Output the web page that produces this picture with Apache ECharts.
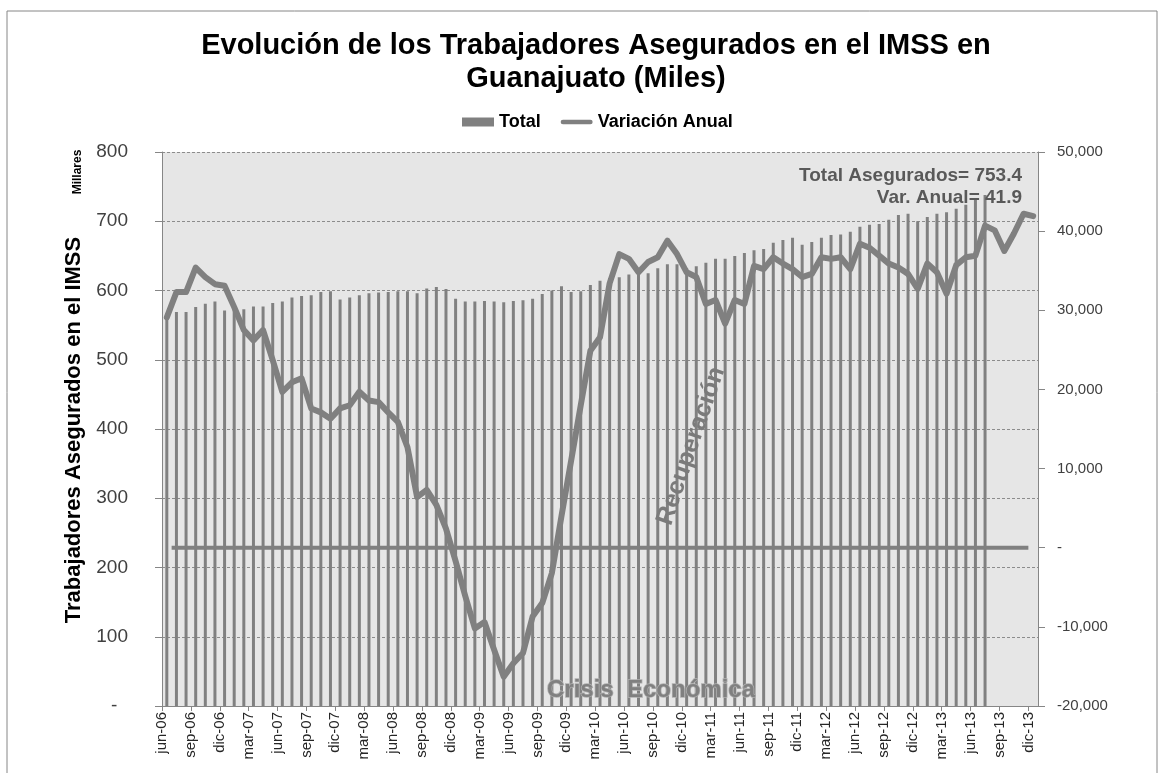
<!DOCTYPE html>
<html>
<head>
<meta charset="utf-8">
<title>Trabajadores Asegurados IMSS Guanajuato</title>
<script src="https://cdn.jsdelivr.net/npm/echarts@6.0.0/dist/echarts.min.js"></script>
<style>
  html, body {margin: 0; padding: 0; background: #fff;}
  #chart {width: 1170px; height: 773px;}
</style>
</head>
<body>
<div id="chart"></div>
<script>
// meses jun-06 .. ene-14 (el eje de etiquetas lleva un mes extra al final)
let months = [
  'jun-06', 'jul-06', 'ago-06', 'sep-06', 'oct-06', 'nov-06', 'dic-06',
  'ene-07', 'feb-07', 'mar-07', 'abr-07', 'may-07', 'jun-07', 'jul-07', 'ago-07', 'sep-07', 'oct-07', 'nov-07', 'dic-07',
  'ene-08', 'feb-08', 'mar-08', 'abr-08', 'may-08', 'jun-08', 'jul-08', 'ago-08', 'sep-08', 'oct-08', 'nov-08', 'dic-08',
  'ene-09', 'feb-09', 'mar-09', 'abr-09', 'may-09', 'jun-09', 'jul-09', 'ago-09', 'sep-09', 'oct-09', 'nov-09', 'dic-09',
  'ene-10', 'feb-10', 'mar-10', 'abr-10', 'may-10', 'jun-10', 'jul-10', 'ago-10', 'sep-10', 'oct-10', 'nov-10', 'dic-10',
  'ene-11', 'feb-11', 'mar-11', 'abr-11', 'may-11', 'jun-11', 'jul-11', 'ago-11', 'sep-11', 'oct-11', 'nov-11', 'dic-11',
  'ene-12', 'feb-12', 'mar-12', 'abr-12', 'may-12', 'jun-12', 'jul-12', 'ago-12', 'sep-12', 'oct-12', 'nov-12', 'dic-12',
  'ene-13', 'feb-13', 'mar-13', 'abr-13', 'may-13', 'jun-13', 'jul-13', 'ago-13', 'sep-13', 'oct-13', 'nov-13', 'dic-13',
  'ene-14'
];
let dataMonths = months.slice(0, 91);

// Total asegurados (miles), jun-06 .. jul-13
let total = [
  566, 569, 569, 576, 581, 584, 571,
  576, 573, 577, 577, 582, 584, 590, 592, 593, 598, 599, 587,
  590, 593, 596, 597, 598, 599, 599, 596, 603, 605, 602, 588,
  584, 584, 585, 584, 583, 585, 586, 588, 595, 600, 606, 598,
  599, 608, 614, 618, 619, 623, 624, 625, 632, 638, 638, 632,
  635, 640, 646, 646, 650, 654, 658, 660, 669, 673, 676, 666,
  670, 676, 680, 681, 685, 692, 695, 696, 702, 709, 711, 700,
  706, 711, 713, 718, 724, 731, 738
];

// Variacion anual (trabajadores), jun-06 .. dic-13
let variacion = [
  29100, 32300, 32300, 35400, 34200, 33300, 33100,
  30400, 27500, 26200, 27500, 23700, 19700, 20900, 21400, 17600, 17100, 16300, 17600,
  18000, 19700, 18600, 18400, 17100, 15900, 12700, 6400, 7300, 5400, 2400, -1700,
  -6100, -10200, -9400, -12900, -16300, -14600, -13300, -8700, -7000, -3200, 4000, 11000,
  18000, 24900, 26600, 33400, 37100, 36500, 34800, 36100, 36700, 38800, 37100, 34800,
  34200, 30800, 31300, 28300, 31300, 30800, 35600, 35200, 36700, 35900, 35200, 34200,
  34600, 36700, 36500, 36700, 35200, 38400, 37900, 36900, 35900, 35400, 34600, 32700,
  35900, 34800, 32100, 35700, 36700, 36900, 40700, 40100, 37500, 39700, 42200, 41900
];

// linea de referencia en cero
let zeroLine = [['jul-06', 0], ['dic-13', 0]];

let gray = '#808080';
let axisGray = '#868686';
let font = 'Arial, "Liberation Sans", sans-serif';

function fmtThousands(v) {
  if (v === 0) return '-';
  return v.toLocaleString('en-US');
}

let option = {
  animation: false,
  backgroundColor: '#ffffff',
  textStyle: {fontFamily: font},
  legend: {
    left: 457,
    top: 108,
    itemWidth: 32,
    itemHeight: 9,
    itemGap: 20,
    textStyle: {fontSize: 18, fontWeight: 'bold', color: '#000', fontFamily: font},
    data: [
      {name: 'Total', icon: 'rect'},
      {name: 'Variación Anual', icon: 'path://M2,0 L32,0 A2.5,2.5 0 0 1 32,5 L2,5 A2.5,2.5 0 0 1 2,0 Z'}
    ]
  },
  grid: {
    left: 162,
    right: 132,
    top: 152,
    bottom: 67,
    show: true,
    backgroundColor: '#e6e6e6',
    borderWidth: 0
  },
  xAxis: [
    {
      type: 'category',
      data: months,
      boundaryGap: false,
      axisLine: {lineStyle: {color: axisGray, width: 1}},
      axisTick: {interval: 2, length: 5, lineStyle: {color: axisGray}},
      axisLabel: {interval: 2, rotate: 90, margin: 6, fontSize: 15, color: '#262626', fontFamily: font},
      splitLine: {show: false}
    },
    {
      type: 'category',
      data: dataMonths,
      boundaryGap: true,
      show: false
    }
  ],
  yAxis: [
    {
      type: 'value',
      min: 0,
      max: 800,
      interval: 100,
      position: 'left',
      axisLine: {show: true, lineStyle: {color: axisGray}},
      axisTick: {show: true, length: 7, lineStyle: {color: axisGray}},
      axisLabel: {
        margin: 34,
        fontSize: 19,
        color: '#404040',
        fontFamily: font,
        formatter: function (v) {
          return v === 0 ? '-  ' : String(v);
        }
      },
      splitLine: {show: true, lineStyle: {color: '#8c8c8c', type: [3, 2], width: 1}}
    },
    {
      type: 'value',
      min: -20000,
      max: 50000,
      interval: 10000,
      position: 'right',
      axisLine: {show: true, lineStyle: {color: axisGray}},
      axisTick: {show: true, length: 7, lineStyle: {color: axisGray}},
      axisLabel: {margin: 19, fontSize: 15, color: '#404040', fontFamily: font, formatter: fmtThousands},
      splitLine: {show: false}
    }
  ],
  series: [
    {
      name: 'Total',
      type: 'bar',
      xAxisIndex: 1,
      yAxisIndex: 0,
      barWidth: 3,
      itemStyle: {color: gray},
      data: total,
      z: 2
    },
    {
      name: 'Cero',
      type: 'line',
      xAxisIndex: 0,
      yAxisIndex: 1,
      symbol: 'none',
      lineStyle: {color: gray, width: 4},
      data: zeroLine,
      z: 3
    },
    {
      name: 'Variación Anual',
      type: 'line',
      xAxisIndex: 1,
      yAxisIndex: 1,
      symbol: 'none',
      lineStyle: {color: gray, width: 6, join: 'round', cap: 'round'},
      itemStyle: {color: gray},
      data: variacion,
      z: 4
    }
  ],
  graphic: [
    {
      type: 'rect',
      shape: {x: 7, y: 11, width: 1150, height: 800},
      style: {fill: null, stroke: axisGray, lineWidth: 1},
      silent: true,
      z: -1
    },
    {
      type: 'text',
      x: 596,
      y: 29,
      style: {
        text: 'Evolución de los Trabajadores Asegurados en el IMSS en\nGuanajuato (Miles)',
        font: 'bold 29px ' + font,
        lineHeight: 33,
        align: 'center',
        fill: '#000'
      }
    },
    {
      type: 'text',
      x: 74,
      y: 430,
      rotation: Math.PI / 2,
      style: {
        text: 'Trabajadores Asegurados en el IMSS',
        font: 'bold 22px ' + font,
        align: 'center',
        verticalAlign: 'middle',
        fill: '#000'
      }
    },
    {
      type: 'text',
      x: 78,
      y: 172,
      rotation: Math.PI / 2,
      style: {
        text: 'Millares',
        font: 'bold 12px ' + font,
        align: 'center',
        verticalAlign: 'middle',
        fill: '#000'
      }
    },
    {
      type: 'text',
      x: 1022,
      y: 176,
      z: 100,
      style: {
        text: 'Total Asegurados= 753.4',
        font: 'bold 19px ' + font,
        align: 'right',
        verticalAlign: 'middle',
        fill: '#595959'
      }
    },
    {
      type: 'text',
      x: 1022,
      y: 198,
      z: 100,
      style: {
        text: 'Var. Anual= 41.9',
        font: 'bold 19px ' + font,
        align: 'right',
        verticalAlign: 'middle',
        fill: '#595959'
      }
    },
    {
      type: 'text',
      x: 691,
      y: 446,
      z: 100,
      rotation: 1.24,
      style: {
        text: 'Recuperación',
        font: 'bold 25px ' + font,
        align: 'center',
        verticalAlign: 'middle',
        fill: '#7a7a7a'
      }
    },
    {
      type: 'text',
      x: 651,
      y: 690,
      z: 100,
      style: {
        text: 'Crisis  Económica',
        font: 'bold 24px ' + font,
        align: 'center',
        verticalAlign: 'middle',
        fill: '#808080',
        stroke: '#b0b0b0',
        lineWidth: 1.5
      }
    }
  ]
};

let myChart = echarts.init(document.getElementById('chart'));
myChart.setOption(option);
</script>
</body>
</html>
